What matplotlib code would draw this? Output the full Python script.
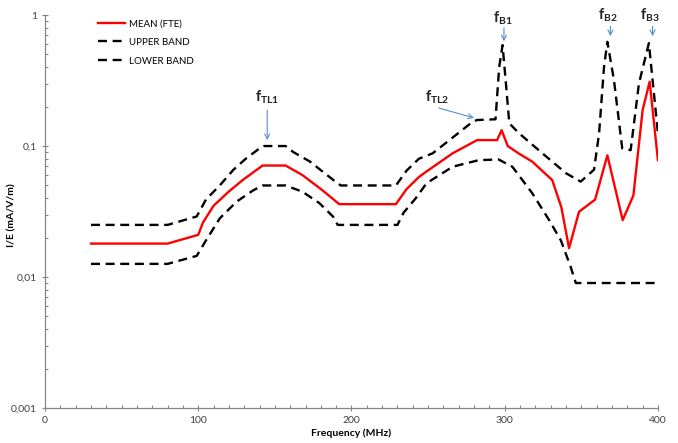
import matplotlib
matplotlib.use("Agg")
import matplotlib.pyplot as plt
from matplotlib.ticker import FixedLocator, MultipleLocator, LogLocator, NullFormatter

plt.rcParams['font.family'] = ['Lato', 'DejaVu Sans']
plt.rcParams['mathtext.fontset'] = 'custom'
plt.rcParams['mathtext.rm'] = 'Lato'
plt.rcParams['mathtext.bf'] = 'Lato:bold'

# mean curve (FTE)
freq_mean = [30, 80, 100, 103, 110, 120, 129, 142, 157, 168, 181, 192, 229, 236, 244, 249,
             266, 282, 295, 298, 302, 309, 318, 331, 337, 342, 348.5, 359, 367, 377, 384,
             390, 394.6, 400]
mean_fte = [0.018, 0.018, 0.021, 0.026, 0.035, 0.045, 0.055, 0.071, 0.071, 0.060, 0.046,
            0.036, 0.036, 0.047, 0.058, 0.064, 0.088, 0.111, 0.111, 0.132, 0.100, 0.088,
            0.076, 0.055, 0.034, 0.0166, 0.0315, 0.039, 0.085, 0.0272, 0.042, 0.188,
            0.31, 0.078]

# upper band
freq_upper = [30, 80, 99, 105, 114, 123, 131, 140, 143, 157, 162, 173, 181, 190, 193, 229,
              236, 244, 253, 268, 279, 282, 294, 296.4, 298.6, 300.8, 303, 309.4, 324.6,
              340, 349.6, 358.3, 361.6, 364.8, 367, 371.3, 376.7, 382.2, 387.6, 394.1, 400]
upper_band = [0.025, 0.025, 0.029, 0.039, 0.050, 0.066, 0.080, 0.096, 0.100, 0.100, 0.090,
              0.076, 0.064, 0.053, 0.050, 0.050, 0.065, 0.080, 0.088, 0.121, 0.153, 0.158,
              0.160, 0.40, 0.59, 0.30, 0.149, 0.125, 0.088, 0.062, 0.0535, 0.066, 0.125,
              0.40, 0.625, 0.319, 0.096, 0.093, 0.30, 0.61, 0.125]

# lower band
freq_lower = [30, 80, 99, 105, 114, 125, 136, 142, 157, 168, 179, 188, 191, 230, 234, 242,
              249, 266, 283, 296, 305, 318, 329, 336.6, 343, 346.4, 400]
lower_band = [0.0126, 0.0126, 0.0145, 0.019, 0.028, 0.0376, 0.046, 0.050, 0.050, 0.0448,
              0.0367, 0.0289, 0.025, 0.025, 0.031, 0.040, 0.052, 0.0695, 0.078, 0.079,
              0.0695, 0.0436, 0.0272, 0.0191, 0.012, 0.009, 0.009]

# annotations: label, arrow head (freq, value), arrow tail (freq, value), text centre (freq, value)
ann_labels = [r'$\mathbf{f}_{\mathbf{TL1}}$', r'$\mathbf{f}_{\mathbf{TL2}}$',
              r'$\mathbf{f}_{\mathbf{B1}}$', r'$\mathbf{f}_{\mathbf{B2}}$',
              r'$\mathbf{f}_{\mathbf{B3}}$']
ann_head = [(145, 0.111), (280, 0.164), (299.5, 0.63), (369, 0.69), (396.5, 0.69)]
ann_tail = [(145, 0.188), (257, 0.195), (299.5, 0.80), (369, 0.82), (396.5, 0.82)]
ann_text = [(145, 0.235), (256, 0.235), (299, 0.95), (367, 0.99), (394.5, 0.99)]

fig = plt.figure(figsize=(6.78, 4.43), dpi=100)
ax = fig.add_axes([0.0664, 0.079, 0.904, 0.887])

ax.plot(freq_mean, mean_fte, color='#FF0000', lw=1.7, label='MEAN (FTE)')
ax.plot(freq_upper, upper_band, color='black', lw=1.7, dashes=(3.8, 2.4), label='UPPER BAND')
ax.plot(freq_lower, lower_band, color='black', lw=1.7, dashes=(3.8, 2.4), label='LOWER BAND')

for lab, head, tail, tpos in zip(ann_labels, ann_head, ann_tail, ann_text):
    ax.annotate('', xy=head, xytext=tail,
                arrowprops=dict(arrowstyle='->', color='#5B8CCB', lw=0.8, mutation_scale=9,
                                shrinkA=0, shrinkB=0))
    ax.text(tpos[0], tpos[1], lab, ha='center', va='center', fontsize=10.5, color='#222222')

ax.set_yscale('log')
ax.set_xlim(0, 400)
ax.set_ylim(0.001, 1)
ax.xaxis.set_major_locator(MultipleLocator(100))
ax.xaxis.set_minor_locator(MultipleLocator(10))
ax.yaxis.set_major_locator(FixedLocator([0.001, 0.01, 0.1, 1]))
ax.yaxis.set_minor_locator(LogLocator(base=10, subs=range(2, 10)))
ax.yaxis.set_minor_formatter(NullFormatter())
ax.set_yticklabels(['0,001', '0,01', '0,1', '1'])

for side in ['top', 'right']:
    ax.spines[side].set_visible(False)
for side in ['left', 'bottom']:
    ax.spines[side].set_color('#868686')
    ax.spines[side].set_linewidth(0.9)

ax.tick_params(which='major', direction='inout', length=5, width=0.8, color='#868686',
               labelsize=7.5, labelcolor='#404040')
ax.tick_params(which='minor', direction='in', length=2.5, width=0.8, color='#868686')
ax.tick_params(axis='x', pad=3)

ax.set_xlabel('Frequency (MHz)', fontsize=7.5, fontweight='bold', labelpad=3)
ax.set_ylabel('I/E (mA/V/m)', fontsize=7.5, fontweight='bold')
ax.yaxis.set_label_coords(-0.046, 0.49)

ax.legend(loc='upper left', bbox_to_anchor=(0.072, 1.012), frameon=False, fontsize=7,
          handlelength=2.8, labelspacing=1.0, handletextpad=0.35)

fig.savefig('out.png', dpi=100)
